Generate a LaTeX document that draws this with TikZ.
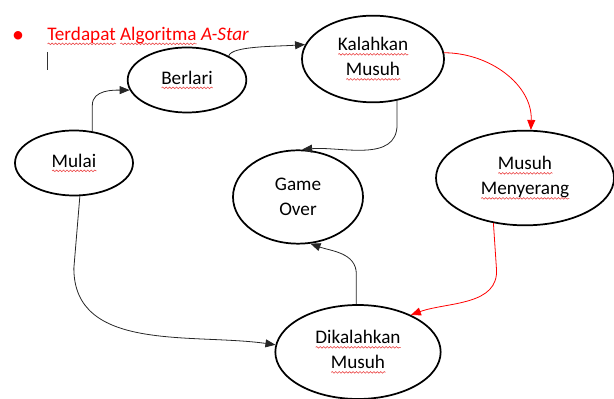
\documentclass[tikz,border=0pt]{standalone}
\usepackage{fontspec}
\setmainfont{Carlito}
\usepackage{tikz}
\usetikzlibrary{shapes.geometric,arrows.meta,decorations.pathmorphing}
\definecolor{wordred}{RGB}{255,0,0}
\definecolor{squigred}{RGB}{235,70,70}
\newlength{\typowd}
\newcommand{\typo}[1]{\settowidth{\typowd}{#1}\rlap{\tikz[baseline=0pt]\draw[squigred, line width=0.45pt, solid, decorate, decoration={snake, amplitude=0.6pt, segment length=2.6pt}] (0pt,-2.6pt) -- (\typowd,-2.6pt);}#1}

\begin{document}
\begin{tikzpicture}[
    x=0.75pt, y=0.75pt,
    state/.style={draw, ellipse, line width=1.3pt, inner sep=0pt, align=center, font=\fontsize{14.4}{18.8}\selectfont},
    flow/.style={draw=black!85, line width=0.6pt, -{Triangle[length=7.5pt,width=6pt]}},
    redflow/.style={flow, draw=wordred}
]
\useasboundingbox (0,0) rectangle (614,399);

% heading line
\node[text=wordred, font=\fontsize{18}{18}\selectfont] (titik) at (18,362) {\textbullet};
\node[anchor=west, inner sep=0pt, text=wordred, font=\fontsize{14.4}{18.8}\selectfont] (judul) at (47,363) {\typo{Terdapat} \typo{Algoritma} \textit{A-Star}};
\draw[black!80, line width=0.5pt] (47,347) -- (47,329);

% states
\node[state, minimum width=88.5pt, minimum height=48.75pt] (mulai) at (74,236) {\typo{Mulai}};
\node[state, minimum width=89pt, minimum height=48.75pt] (berlari) at (187,319) {\typo{Berlari}};
\node[state, minimum width=106.5pt, minimum height=65pt] (kalahkan) at (373,340) {\typo{Kalahkan}\\\typo{Musuh}};
\node[state, minimum width=97.5pt, minimum height=70pt] (gameover) at (298,202) {Game\\Over};
\node[state, minimum width=133.5pt, minimum height=71pt] (menyerang) at (525,221) {\typo{Musuh}\\\typo{Menyerang}};
\node[state, minimum width=124pt, minimum height=70.5pt] (dikalahkan) at (358,47) {\typo{Dikalahkan}\\\typo{Musuh}};

% transitions
\draw[flow] (mulai.60) -- ++(0,26) to[out=90,in=180] (berlari.190);
\draw[flow] (berlari.30) .. controls +(3,10) and +(-30,-2) .. (kalahkan.168);
\draw[flow] (kalahkan.-60) -- ++(0,-24) to[out=-90,in=5] (gameover.85);
\draw[redflow] (kalahkan.5) to[out=0,in=88] (menyerang.83);
\draw[redflow] (menyerang.-125) -- ++(3,-45) to[out=-85,in=20] (dikalahkan.35);
\draw[flow] (dikalahkan.92) -- ++(0,30) to[out=90,in=-20] (gameover.-75);
\draw[flow] (mulai.-80) -- ++(-6,-72) to[out=-90,in=172] (dikalahkan.175);

\end{tikzpicture}
\end{document}
